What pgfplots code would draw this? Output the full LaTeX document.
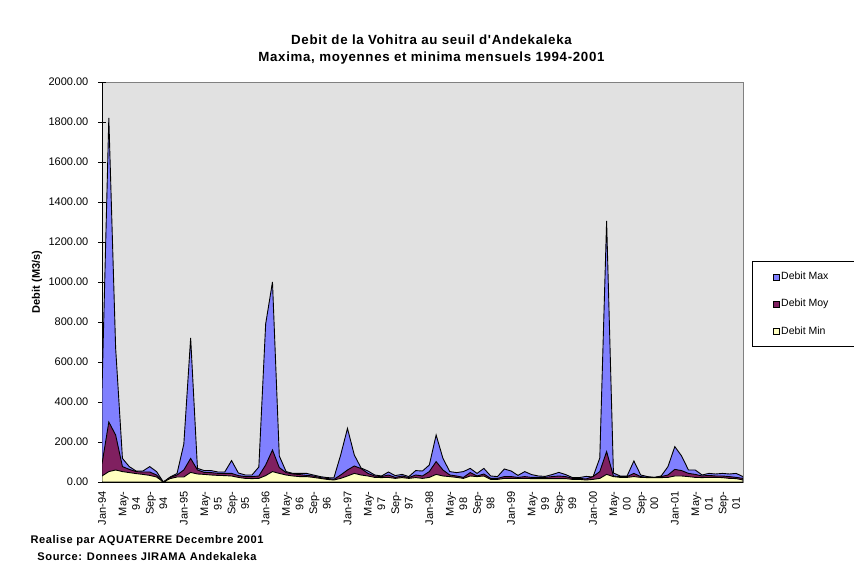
\documentclass[border=0pt]{standalone}
\usepackage{fontspec}
\setmainfont{Liberation Sans}
\newfontfamily\excelfont[LetterSpace=5]{Liberation Sans}
\usepackage{pgfplots}
\usepackage{pgfplotstable}
\pgfplotsset{compat=1.18}
\definecolor{cmax}{RGB}{128,128,255}
\definecolor{cmoy}{RGB}{128,32,96}
\definecolor{cmin}{RGB}{255,255,192}
\definecolor{plotbg}{RGB}{225,225,225}

\pgfplotstableread{
i max moy min
0 460 90 30
1 1820 300 52
2 670 235 60
3 118 77 52
4 77 63 47
5 55 52 42
6 55 50 38
7 77 50 33
8 52 35 25
9 0 0 0
10 25 23 17
11 42 35 25
12 190 60 25
13 720 118 48
14 68 60 40
15 57 48 38
16 57 47 35
17 50 43 33
18 50 43 32
19 107 43 30
20 45 32 23
21 35 27 18
22 35 27 17
23 75 30 18
24 790 85 32
25 1000 160 52
26 130 72 43
27 52 47 35
28 43 40 30
29 43 37 27
30 43 33 27
31 35 30 23
32 27 22 18
33 22 18 13
34 20 13 10
35 135 35 18
36 268 60 30
37 135 80 43
38 70 67 35
39 55 43 30
40 35 30 23
41 30 27 22
42 50 35 23
43 32 23 18
44 38 30 22
45 27 22 18
46 57 35 22
47 55 30 18
48 85 52 23
49 235 102 38
50 118 60 30
51 52 35 27
52 47 30 23
53 52 23 18
54 68 47 30
55 43 30 27
56 68 40 30
57 30 18 13
58 27 18 13
59 65 27 18
60 55 27 18
61 33 23 18
62 52 27 18
63 37 23 17
64 30 23 17
65 28 23 17
66 37 27 17
67 48 30 17
68 37 27 17
69 22 18 13
70 22 18 13
71 28 15 10
72 25 27 13
73 120 52 18
74 1305 152 38
75 45 30 27
76 30 27 23
77 30 27 23
78 105 43 27
79 35 27 23
80 27 23 22
81 23 23 22
82 30 27 22
83 77 35 23
84 177 63 30
85 130 57 30
86 60 43 27
87 60 38 23
88 35 30 22
89 43 33 23
90 40 30 23
91 43 30 22
92 40 27 18
93 43 23 17
94 27 18 10
}\data

\begin{document}
\begin{tikzpicture}
\useasboundingbox (0pt,0pt) rectangle (854pt,567pt);
\begin{axis}[
  at={(102pt,85pt)}, anchor=south west,
  scale only axis, width=641pt, height=400pt,
  xmin=0, xmax=94, ymin=0, ymax=2000,
  axis background/.style={fill=plotbg, draw=gray},
  axis lines=left,
  axis line style={-, black, line width=0.8pt},
  ytick={0,200,...,2000},
  y tick style={black, line width=0.8pt},
  tick align=center,
  major tick length=7pt,
  /pgf/number format/fixed,
  /pgf/number format/fixed zerofill,
  /pgf/number format/precision=2,
  /pgf/number format/1000 sep={},
  /pgf/number format/assume math mode=true,
  yticklabel style={font=\fontsize{11}{13}\selectfont, inner sep=0pt},
  yticklabel shift=10pt,
  xtick={0,4,...,92},
  xticklabels={Jan-94,{May-\\94},{Sep-\\94},Jan-95,{May-\\95},{Sep-\\95},Jan-96,{May-\\96},{Sep-\\96},Jan-97,{May-\\97},{Sep-\\97},Jan-98,{May-\\98},{Sep-\\98},Jan-99,{May-\\99},{Sep-\\99},Jan-00,{May-\\00},{Sep-\\00},Jan-01,{May-\\01},{Sep-\\01}},
  x tick style={draw=none},
  xticklabel style={rotate=90, anchor=east, align=center, font=\fontsize{11}{13.5}\selectfont, inner sep=0pt},
  xticklabel shift=6pt,
  ylabel={\bfseries Debit (M3/s)},
  every axis y label/.style={at={(axis description cs:-0.1014,0.5)}, rotate=90, anchor=center, font=\fontsize{11}{13}\selectfont},
  title={Debit de la Vohitra au seuil d'Andekaleka\\Maxima, moyennes et minima mensuels 1994-2001},
  title style={at={(axis description cs:0.514,1.065)}, anchor=center, align=center, font=\excelfont\bfseries\fontsize{13.3}{17}\selectfont},
  legend style={at={(axis description cs:1.0145,0.553)}, anchor=north west, draw=black, line width=0.8pt, fill=white,
    font=\fontsize{10.5}{12}\selectfont, row sep=14pt, inner xsep=20pt, inner ysep=9pt, cells={anchor=west}},
  legend image code/.code={\draw[#1, line width=0.5pt] (0pt,-3pt) rectangle (6pt,3pt);},
]
\addplot[fill=cmax, draw=black, line width=0.9pt] table[x=i,y=max]{\data} \closedcycle;
\addlegendentry{\makebox[70pt][l]{Debit Max}}
\addplot[fill=cmoy, draw=black, line width=0.9pt] table[x=i,y=moy]{\data} \closedcycle;
\addlegendentry{\makebox[70pt][l]{Debit Moy}}
\addplot[fill=cmin, draw=black, line width=0.9pt] table[x=i,y=min]{\data} \closedcycle;
\addlegendentry{\makebox[70pt][l]{Debit Min}}
\end{axis}
\node[anchor=center, align=center, font=\excelfont\bfseries\fontsize{11.1}{17}\selectfont] at (147pt,18.5pt) {Realise par AQUATERRE Decembre 2001\\Source: Donnees JIRAMA Andekaleka};
\end{tikzpicture}
\end{document}
